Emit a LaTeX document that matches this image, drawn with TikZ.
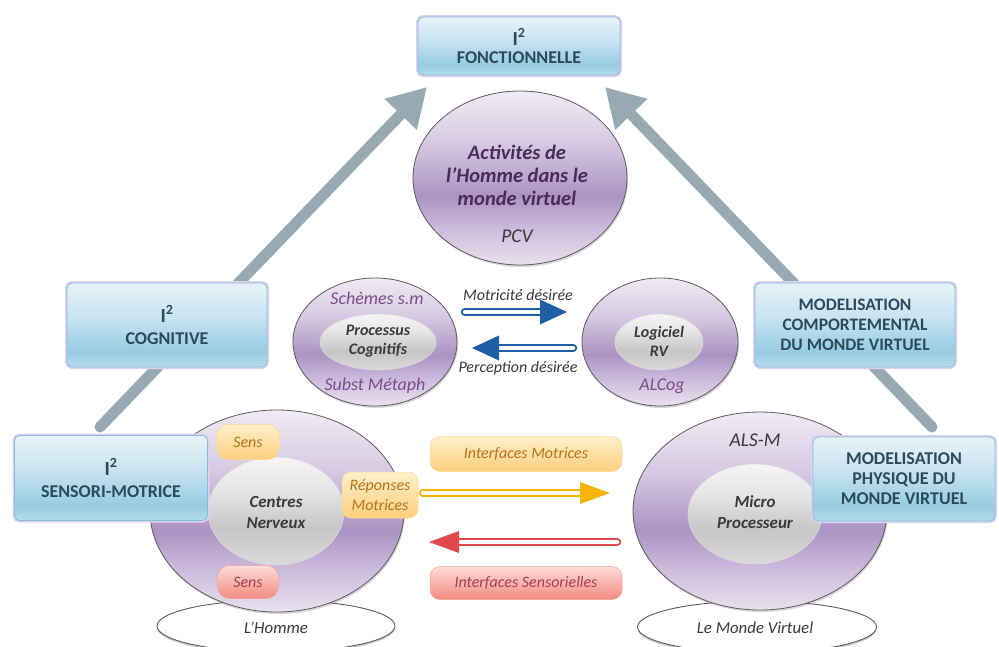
\documentclass[tikz,border=0pt]{standalone}
\usepackage{fontspec}
\setmainfont{Carlito}
\usetikzlibrary{shapes.geometric,shadows,arrows.meta}
\definecolor{boxtext}{HTML}{2B4A5C}
\definecolor{boxedge}{HTML}{86BCDB}
\definecolor{glowc}{HTML}{DCD2EE}
\definecolor{grayarr}{HTML}{98AAB1}
\definecolor{bluearr}{HTML}{1F5FA5}
\definecolor{yelarr}{HTML}{F6B50A}
\definecolor{redarr}{HTML}{E2474C}
\definecolor{darkpurp}{HTML}{4A2A58}
\definecolor{midpurp}{HTML}{7A4C8C}
\definecolor{darkgray}{HTML}{3A3A3A}
\definecolor{ringedge}{HTML}{5C5C5C}
\definecolor{orangetext}{HTML}{B8741C}
\definecolor{redtext}{HTML}{A8404A}
\definecolor{pA}{HTML}{E9E1EE}
\definecolor{pB}{HTML}{CBB9DB}
\definecolor{pC}{HTML}{AB93C3}
\definecolor{pD}{HTML}{D6C9E2}
\definecolor{pE}{HTML}{F0EBF4}
\definecolor{gA}{HTML}{E6E6E6}
\definecolor{gB}{HTML}{C6C6C6}
\definecolor{gC}{HTML}{DADADA}
\definecolor{gD}{HTML}{F5F5F5}
\definecolor{bA}{HTML}{B4DBEB}
\definecolor{bB}{HTML}{97CCE3}
\definecolor{bC}{HTML}{C9E4F0}
\definecolor{bD}{HTML}{E7F2F8}
\definecolor{oA}{HTML}{FDCF7E}
\definecolor{oB}{HTML}{FFF0CA}
\definecolor{rA}{HTML}{F28A80}
\definecolor{rB}{HTML}{FFDCD8}
\pgfdeclareverticalshading{purpring}{100bp}{color(0bp)=(pA); color(25bp)=(pA); color(36bp)=(pB); color(45bp)=(pC); color(60bp)=(pD); color(75bp)=(pE); color(100bp)=(pE)}
\pgfdeclareverticalshading{grayring}{100bp}{color(0bp)=(gC); color(25bp)=(gC); color(42bp)=(gB); color(60bp)=(gA); color(75bp)=(gD); color(100bp)=(gD)}
\pgfdeclareverticalshading{boxsh}{100bp}{color(0bp)=(bA); color(25bp)=(bA); color(34bp)=(bB); color(55bp)=(bC); color(75bp)=(bD); color(100bp)=(bD)}
\tikzset{
  bluebox/.style={rectangle, rounded corners=5pt, draw=boxedge, line width=0.8pt,
    shade, shading=boxsh, preaction={draw=glowc, line width=4pt},
    align=center, text=boxtext, inner sep=0pt,
    font=\fontsize{18}{20}\selectfont\bfseries},
  ring/.style={ellipse, draw=ringedge, line width=0.8pt, shade, shading=purpring,
    inner sep=0pt, drop shadow={opacity=0.3, shadow xshift=1pt, shadow yshift=-2pt}},
  core/.style={ellipse, draw=white!70!gray, line width=0.6pt, shade, shading=grayring, inner sep=0pt},
  base/.style={ellipse, draw=ringedge, line width=0.9pt, fill=white, inner sep=0pt,
    drop shadow={opacity=0.4, shadow xshift=0pt, shadow yshift=-2pt}},
  opill/.style={rectangle, rounded corners=10pt, draw=oA!80!white, line width=0.5pt,
    top color=oB, bottom color=oA, inner sep=0pt, align=center, text=orangetext,
    font=\fontsize{16}{20}\selectfont\itshape},
  rpill/.style={rectangle, rounded corners=10pt, draw=rA!80!white, line width=0.5pt,
    top color=rB, bottom color=rA, inner sep=0pt, align=center, text=redtext,
    font=\fontsize{16}{20}\selectfont\itshape},
  bigarrow/.style={draw=grayarr, line width=11pt, line cap=round, -{Triangle[length=38pt,width=42pt]}},
  dshaft/.style={line width=2pt, double=white, double distance=4.5pt, line cap=round},
  headtext/.style={text=darkpurp, align=center, font=\fontsize{20.5}{23}\selectfont\bfseries\itshape},
  coretext/.style={text=darkgray, align=center, font=\fontsize{17}{21}\selectfont\bfseries\itshape},
  smallcore/.style={text=darkgray, align=center, font=\fontsize{16}{19}\selectfont\bfseries\itshape},
  ringlabel/.style={text=midpurp, font=\fontsize{18}{20}\selectfont\itshape},
  graylabel/.style={text=darkgray, font=\fontsize{19.5}{20}\selectfont\itshape},
  baselabel/.style={text=darkgray, font=\fontsize{16.8}{18}\selectfont\itshape},
  arrlabel/.style={text=darkgray, font=\fontsize{16}{18}\selectfont\itshape},
  isq/.style={font=\fontsize{20}{20}\selectfont\bfseries},
}
\newcommand{\Isq}{{\fontsize{20}{20}\selectfont I\textsuperscript{2}}}
\begin{document}
\begin{tikzpicture}[x=1pt,y=-1pt]
\useasboundingbox[fill=white] (0,0) rectangle (999,646);

% big grey arrows (behind boxes)
\coordinate (la1) at (100,427);
\coordinate (la2) at (427,87);
\coordinate (ra1) at (932,427);
\coordinate (ra2) at (605,87);
\draw[bigarrow] (la1) -- (la2);
\draw[bigarrow] (ra1) -- (ra2);

% top circle
\node[ring, minimum width=214pt, minimum height=174pt] (pcv) at (520,178) {};
\node[headtext] (act) at (517,175) {Activités de\\l'Homme dans le\\monde virtuel};
\node[graylabel] (pcvt) at (517,236) {PCV};

% boxes
\node[bluebox, minimum width=202pt, minimum height=58pt] (fonc) at (519,46)
  {\Isq\\[-2pt]FONCTIONNELLE};
\node[bluebox, minimum width=200pt, minimum height=84pt] (cog) at (167,325)
  {\Isq\\[2pt]COGNITIVE};
\node[bluebox, font=\fontsize{17.5}{20}\selectfont\bfseries, minimum width=200pt, minimum height=84pt] (comp) at (855,325)
  {MODELISATION\\COMPORTEMENTAL\\DU MONDE VIRTUEL};

% middle circles
\node[ring, minimum width=164pt, minimum height=128pt] (schem) at (375,342) {};
\node[core, minimum width=116pt, minimum height=56pt] (proc) at (378,342) {};
\node[smallcore] (proct) at (378,341) {Processus\\Cognitifs};
\node[ringlabel] (scht) at (377,298) {Schèmes s.m};
\node[ringlabel] (subt) at (375,386) {Subst Métaph};

\node[ring, minimum width=156pt, minimum height=128pt] (alcog) at (660,342) {};
\node[core, minimum width=88pt, minimum height=56pt] (logi) at (659,342) {};
\node[smallcore] (logit) at (659,341) {Logiciel\\RV};
\node[ringlabel] (alct) at (662,386) {ALCog};

% blue arrows
\coordinate (mt1) at (465,312);
\coordinate (mt2) at (567,312);
\coordinate (pt1) at (573,348);
\coordinate (pt2) at (472,348);
\draw[dshaft, draw=bluearr, shorten >=24pt] (mt1) -- (mt2);
\fill[bluearr] (mt2) -- ++(-27,-12.5) -- ++(0,25) -- cycle;
\draw[dshaft, draw=bluearr, shorten >=24pt] (pt1) -- (pt2);
\fill[bluearr] (pt2) -- ++(27,-12.5) -- ++(0,25) -- cycle;
\node[arrlabel] (motd) at (518,295) {Motricité désirée};
\node[arrlabel] (perd) at (518,368) {Perception désirée};

% left (human) circle
\node[base, minimum width=238pt, minimum height=52pt] (homme) at (276,626) {};
\node[ring, minimum width=254pt, minimum height=202pt] (hring) at (277,511) {};
\node[core, minimum width=136pt, minimum height=108pt] (cn) at (276,511) {};
\node[coretext] (cnt) at (276,512) {Centres\\Nerveux};
\node[opill, rounded corners=12pt, minimum width=63pt, minimum height=35pt] (sens1) at (248,442) {Sens};
\node[rpill, rounded corners=12pt, minimum width=61pt, minimum height=33pt] (sens2) at (248,582) {Sens};
\node[opill, rounded corners=9pt, minimum width=76pt, minimum height=46pt] (rep) at (380,495) {Réponses\\Motrices};
\node[baselabel] (hommet) at (276,628) {L'Homme};

% right (virtual) circle
\node[base, minimum width=239pt, minimum height=52pt] (monde) at (757,627) {};
\node[ring, minimum width=254pt, minimum height=198pt] (vring) at (760,511) {};
\node[core, minimum width=134pt, minimum height=100pt] (mp) at (755,514) {};
\node[coretext] (mpt) at (755,512) {Micro\\Processeur};
\node[graylabel] (alsm) at (755,440) {ALS-M};
\node[baselabel] (mondet) at (755,628) {Le Monde Virtuel};

% interfaces
\node[opill, minimum width=192pt, minimum height=35pt] (imot) at (526,454) {Interfaces Motrices};
\node[rpill, minimum width=192pt, minimum height=33pt] (isens) at (526,583) {Interfaces Sensorielles};
\coordinate (ya1) at (423,493);
\coordinate (ya2) at (610,493);
\coordinate (rd1) at (617,542);
\coordinate (rd2) at (429,542);
\draw[dshaft, draw=yelarr, shorten >=27pt] (ya1) -- (ya2);
\fill[yelarr] (ya2) -- ++(-30,-11) -- ++(0,22) -- cycle;
\draw[dshaft, draw=redarr, shorten >=27pt] (rd1) -- (rd2);
\fill[redarr] (rd2) -- ++(30,-11) -- ++(0,22) -- cycle;

% lower boxes (on top of circles)
\node[bluebox, minimum width=193pt, minimum height=85pt] (sm) at (111,478)
  {\Isq\\[2pt]SENSORI-MOTRICE};
\node[bluebox, minimum width=182pt, minimum height=84pt] (phys) at (904,479)
  {MODELISATION\\PHYSIQUE DU\\MONDE VIRTUEL};
\end{tikzpicture}
\end{document}
